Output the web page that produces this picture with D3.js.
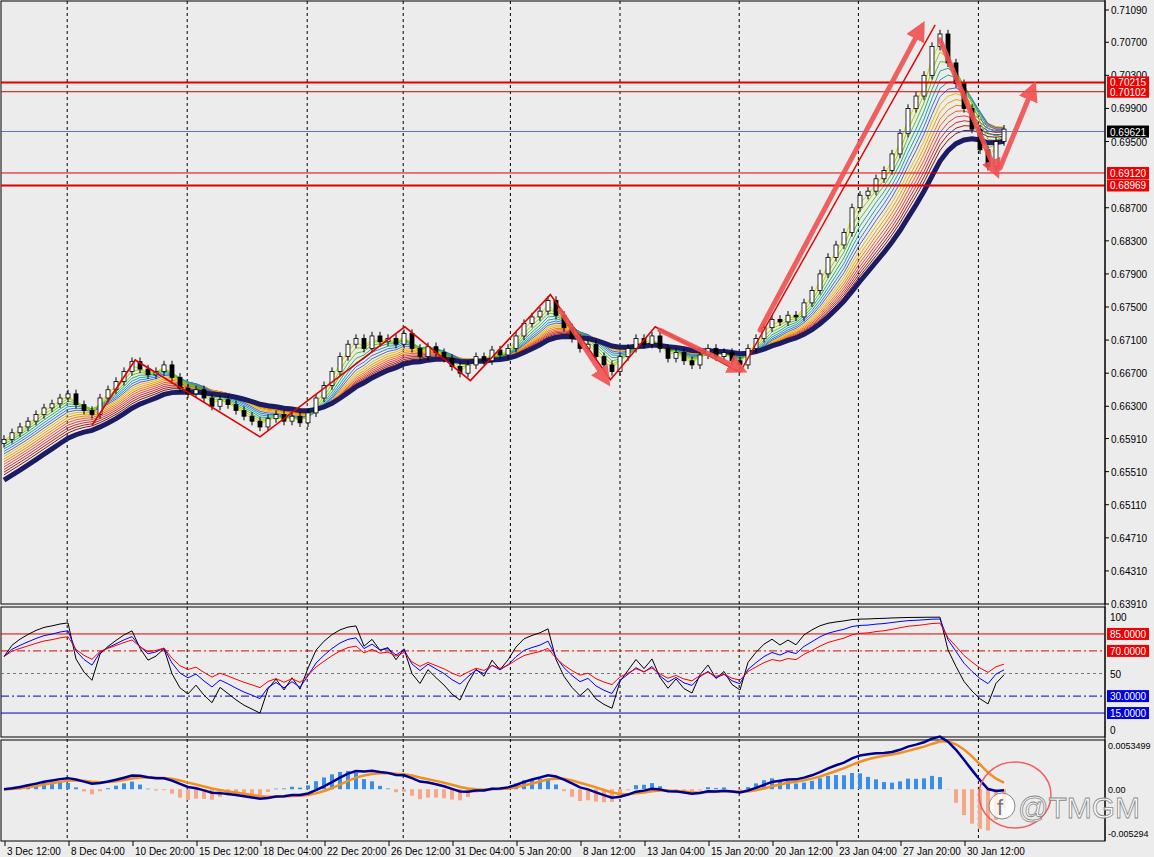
<!DOCTYPE html>
<html lang="en">
<head>
<meta charset="UTF-8">
<title>AUDUSD H4</title>
<script src="https://cdn.jsdelivr.net/npm/d3@7"></script>
<style>
  body { margin: 0; background: #ececec; }
  text { font-family: "Liberation Sans", Arial, sans-serif; font-size: 10px; }
</style>
</head>
<body>
<script>
// closes, one per bar
let closes = [0.6590,0.6598,0.6605,0.6612,0.6620,0.6628,0.6633,0.6640,0.6645,0.6632,
  0.6625,0.6620,0.6640,0.6650,0.6660,0.6672,0.6684,0.6675,0.6668,0.6672,
  0.6680,0.6665,0.6652,0.6645,0.6650,0.6640,0.6630,0.6638,0.6632,0.6625,
  0.6618,0.6612,0.6605,0.6615,0.6620,0.6612,0.6618,0.6610,0.6622,0.6640,
  0.6655,0.6672,0.6690,0.6705,0.6712,0.6700,0.6715,0.6708,0.6712,0.6705,
  0.6718,0.6700,0.6690,0.6702,0.6695,0.6688,0.6678,0.6670,0.6680,0.6690,
  0.6685,0.6698,0.6692,0.6700,0.6715,0.6730,0.6738,0.6745,0.6758,0.6740,
  0.6725,0.6712,0.6700,0.6705,0.6690,0.6680,0.6672,0.6690,0.6700,0.6712,
  0.6705,0.6715,0.6700,0.6688,0.6695,0.6685,0.6680,0.6692,0.6700,0.6690,
  0.6695,0.6685,0.6680,0.6700,0.6712,0.6725,0.6735,0.6732,0.6740,0.6738,
  0.6755,0.6770,0.6790,0.6810,0.6825,0.6840,0.6870,0.6885,0.6890,0.6905,
  0.6915,0.6935,0.6960,0.6990,0.7005,0.7030,0.7065,0.7080,0.7045,0.7020,
  0.6990,0.6965,0.6940,0.6920,0.6950,0.6965];
let firstOpen = 0.6585;
let maSeed = 0.6535;

let priceTicks = [0.71090,0.70700,0.70300,0.69900,0.69500,0.68700,0.68300,0.67900,0.67500,
  0.67100,0.66700,0.66300,0.65910,0.65510,0.65110,0.64710,0.64310,0.63910];
let levels = [
  {p: 0.70215, w: 2}, {p: 0.70102, w: 1}, {p: 0.69120, w: 1}, {p: 0.68969, w: 2}
];
let bid = 0.69621;

let timeLabels = ["3 Dec 12:00","8 Dec 04:00","10 Dec 20:00","15 Dec 12:00","18 Dec 04:00",
  "22 Dec 20:00","26 Dec 12:00","31 Dec 04:00","5 Jan 20:00","8 Jan 12:00","13 Jan 04:00",
  "15 Jan 20:00","20 Jan 12:00","23 Jan 04:00","27 Jan 20:00","30 Jan 12:00"];
let gridBars = [7.9, 22.9, 37.9, 49.9, 63.3, 77, 91.9, 106.8, 121.8];

// zigzag annotation (bar index, price)
let zigzag = [[11,0.6607],[16.4,0.6686],[32,0.6593],[50.1,0.6726],[58.3,0.6661],
  [68.3,0.6765],[75.8,0.6662],[81.4,0.6726],[92,0.6671]];
let trendLine = [[92,0.6671],[116.4,0.7091]];
let arrows = [[[69.5,0.6746],[75.1,0.6664]],[[82,0.6722],[91.8,0.6676]],
  [[94.5,0.6722],[114.5,0.7085]],[[117,0.7073],[123.9,0.6916]],[[124.5,0.6918],[128.5,0.7012]]];

let ribbonPeriods = [2,3,4,5,6,7,8,9,10,11,12,13,14,15,16];
let ribbonColors = ["#c8e000","#9fd000","#60c030","#20b070","#20a0b0","#3080d0","#6060c0",
  "#e0c000","#f0a000","#f08000","#e86020","#e04040","#c83030","#a02020","#801818"];
let navyPeriod = 18;

let W = 1154, H = 857, plotR = 1105;
let svg = d3.select("body").append("svg").attr("width", W).attr("height", H);
svg.append("rect").attr("width", W).attr("height", H).attr("fill", "#ececec");

let x = d3.scaleLinear().domain([0, 1]).range([4, 12]);
let y = d3.scaleLinear().domain([0.63910, 0.71090]).range([604, 10]);
let yR = d3.scaleLinear().domain([0, 100]).range([730, 617]);
let yM = d3.scaleLinear().domain([-0.005294, 0.0053499]).range([833, 745]);

// panels
[[1, 1, 603], [1, 607, 130], [1, 740, 101]].forEach(p => {
  svg.append("rect").attr("x", p[0]).attr("y", p[1]).attr("width", plotR - 1).attr("height", p[2])
    .attr("fill", "none").attr("stroke", "#000");
});

// vertical grid
gridBars.forEach(b => {
  svg.append("line").attr("x1", x(b)).attr("x2", x(b)).attr("y1", 1).attr("y2", 841)
    .attr("stroke", "#000").attr("stroke-dasharray", "3,3");
});

// EMA helper
function ema(arr, n, seed) {
  let k = 2 / (n + 1), v = seed, out = [];
  arr.forEach(c => { v = c * k + v * (1 - k); out.push(v); });
  return out;
}
let line = d3.line().x((d, i) => x(i)).y(d => y(d));

// ribbon
ribbonPeriods.slice().reverse().forEach((n, j) => {
  let idx = ribbonPeriods.length - 1 - j;
  let seed = closes[0] - (closes[0] - maSeed) * (idx + 1) / (ribbonPeriods.length + 2);
  svg.append("path").attr("d", line(ema(closes, n, seed))).attr("fill", "none")
    .attr("stroke", ribbonColors[idx]).attr("stroke-width", 1);
});
svg.append("path").attr("d", line(ema(closes, navyPeriod, maSeed))).attr("fill", "none")
  .attr("stroke", "#1c1c64").attr("stroke-width", 5);

// candles
closes.forEach((c, i) => {
  let o = i === 0 ? firstOpen : closes[i - 1];
  let hi = Math.max(o, c) + 0.0005, lo = Math.min(o, c) - 0.0005;
  svg.append("line").attr("x1", x(i)).attr("x2", x(i)).attr("y1", y(hi)).attr("y2", y(lo))
    .attr("stroke", "#000");
  svg.append("rect").attr("x", x(i) - 2).attr("width", 4)
    .attr("y", y(Math.max(o, c))).attr("height", Math.max(1, Math.abs(y(o) - y(c))))
    .attr("fill", c >= o ? "#fff" : "#000").attr("stroke", "#000").attr("stroke-width", 0.8);
});

// horizontal levels
levels.forEach(l => {
  svg.append("line").attr("x1", 1).attr("x2", plotR).attr("y1", y(l.p)).attr("y2", y(l.p))
    .attr("stroke", "#e00000").attr("stroke-width", l.w);
});
svg.append("line").attr("x1", 1).attr("x2", plotR).attr("y1", y(bid)).attr("y2", y(bid))
  .attr("stroke", "#3050d0").attr("stroke-width", 0.8);

// annotations
let zl = d3.line().x(d => x(d[0])).y(d => y(d[1]));
svg.append("path").attr("d", zl(zigzag)).attr("fill", "none").attr("stroke", "#e00000").attr("stroke-width", 1.6);
svg.append("path").attr("d", zl(trendLine)).attr("fill", "none").attr("stroke", "#e00000").attr("stroke-width", 1.4);
svg.append("defs").append("marker").attr("id", "ah").attr("viewBox", "0 0 10 10")
  .attr("refX", 5).attr("refY", 5).attr("markerWidth", 4).attr("markerHeight", 4)
  .attr("orient", "auto").append("path").attr("d", "M0,0L10,5L0,10z").attr("fill", "#f05050");
arrows.forEach(a => {
  svg.append("path").attr("d", zl(a)).attr("stroke", "#f05050").attr("stroke-width", 5)
    .attr("stroke-linecap", "round").attr("marker-end", "url(#ah)").attr("opacity", 0.9);
});

// price axis
svg.append("line").attr("x1", plotR).attr("x2", plotR).attr("y1", 0).attr("y2", 841).attr("stroke", "#000");
priceTicks.forEach(t => {
  svg.append("line").attr("x1", plotR).attr("x2", plotR + 4).attr("y1", y(t)).attr("y2", y(t)).attr("stroke", "#000");
  svg.append("text").attr("x", plotR + 6).attr("y", y(t) + 4).text(t.toFixed(5)).attr("fill", "#000");
});
function tag(v, yy, bg) {
  svg.append("rect").attr("x", plotR + 2).attr("y", yy - 6).attr("width", 42).attr("height", 12).attr("fill", bg);
  svg.append("text").attr("x", plotR + 5).attr("y", yy + 4).text(v).attr("fill", "#fff");
}
levels.forEach(l => tag(l.p.toFixed(5), y(l.p), "#f00000"));
tag(bid.toFixed(5), y(bid), "#000");

// RSI
function rsi(arr, n) {
  let ag = 0.0004, al = 0.0002, out = [];
  arr.forEach((c, i) => {
    if (i === 0) { out.push(65); return; }
    let d = c - arr[i - 1];
    ag = (ag * (n - 1) + Math.max(d, 0)) / n;
    al = (al * (n - 1) + Math.max(-d, 0)) / n;
    out.push(al === 0 ? 90 : 100 - 100 / (1 + ag / al));
  });
  return out;
}
[[85, "#e00000", null], [70, "#e00000", "8,3,2,3"], [50, "#777", "3,3"], [30, "#0000c0", "8,3,2,3"], [15, "#0000c0", null]]
  .forEach(l => {
    svg.append("line").attr("x1", 1).attr("x2", plotR).attr("y1", yR(l[0])).attr("y2", yR(l[0]))
      .attr("stroke", l[1]).attr("stroke-dasharray", l[2]);
  });
let rl = d3.line().x((d, i) => x(i)).y(d => yR(d));
[[5, "#000"], [9, "#0000ff"], [14, "#ff0000"]].forEach(r => {
  svg.append("path").attr("d", rl(rsi(closes, r[0]))).attr("fill", "none").attr("stroke", r[1]).attr("stroke-width", 1);
});
[[100, "100", null], [85, "85.0000", "#f00000"], [70, "70.0000", "#f00000"], [50, "50", null],
 [30, "30.0000", "#0000e0"], [15, "15.0000", "#0000e0"], [0, "0", null]].forEach(t => {
  if (t[2]) svg.append("rect").attr("x", plotR + 2).attr("y", yR(t[0]) - 6).attr("width", 42).attr("height", 12).attr("fill", t[2]);
  svg.append("text").attr("x", plotR + 5).attr("y", yR(t[0]) + 4).text(t[1]).attr("fill", t[2] ? "#fff" : "#000");
});

// MACD
let e12 = ema(closes, 6, closes[0]), e26 = ema(closes, 13, closes[0]);
let macd = e12.map((v, i) => v - e26[i]);
let sig = ema(macd, 5, 0);
let hist = macd.map((v, i) => (v - sig[i]) * 2.5);
hist.forEach((h, i) => {
  svg.append("rect").attr("x", x(i) - 2).attr("width", 4)
    .attr("y", Math.min(yM(h), yM(0))).attr("height", Math.abs(yM(h) - yM(0)))
    .attr("fill", h >= 0 ? "#3a8ee6" : "#f5a888");
});
let ml = d3.line().x((d, i) => x(i)).y(d => yM(d));
svg.append("path").attr("d", ml(sig)).attr("fill", "none").attr("stroke", "#f09020").attr("stroke-width", 2.5);
svg.append("path").attr("d", ml(macd)).attr("fill", "none").attr("stroke", "#000090").attr("stroke-width", 2.5);
[[0.0053499, "0.0053499"], [0, "0.00"], [-0.005294, "-0.005294"]].forEach(t => {
  svg.append("text").attr("x", plotR + 3).attr("y", yM(t[0]) + 4).text(t[1]).attr("fill", "#000")
    .style("font-size", "9px");
});

// circle + watermark
svg.append("ellipse").attr("cx", 1015).attr("cy", 795).attr("rx", 36).attr("ry", 33)
  .attr("fill", "none").attr("stroke", "#f06060").attr("stroke-width", 1.5);
svg.append("circle").attr("cx", 1002).attr("cy", 806).attr("r", 13).attr("fill", "rgba(255,255,255,0.8)").attr("stroke", "#888");
svg.append("text").attr("x", 997).attr("y", 815).text("f").attr("fill", "#777").style("font-size", "22px");
svg.append("text").attr("x", 1018).attr("y", 818).text("@TMGM").attr("fill", "rgba(255,255,255,0.85)")
  .attr("stroke", "#888").attr("stroke-width", 0.8).style("font-size", "30px");

// time labels
timeLabels.forEach((t, i) => {
  let xx = 7 + i * 64;
  svg.append("line").attr("x1", xx - 2).attr("x2", xx - 2).attr("y1", 841).attr("y2", 846).attr("stroke", "#000");
  svg.append("text").attr("x", xx).attr("y", 855).text(t).attr("fill", "#000");
});
</script>
</body>
</html>
